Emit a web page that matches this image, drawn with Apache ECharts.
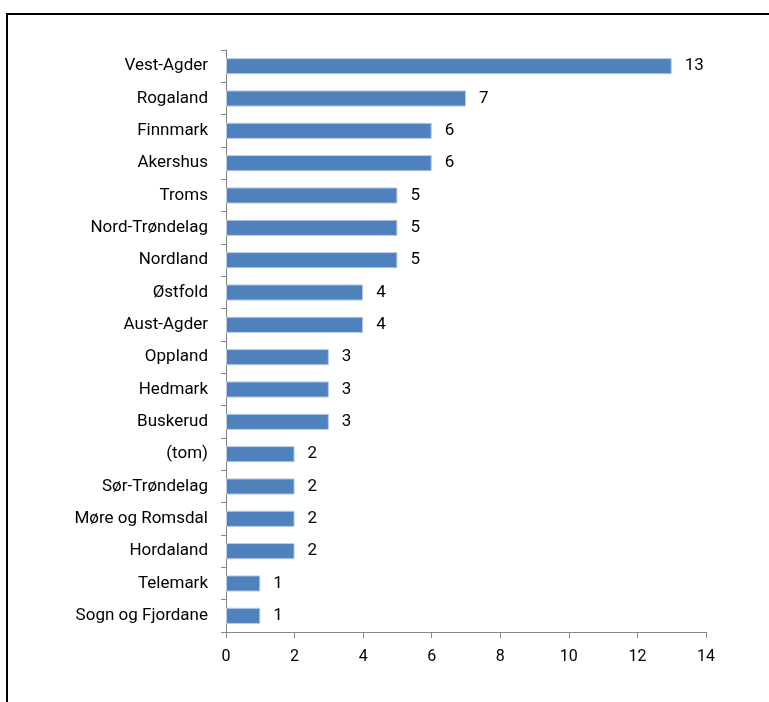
<!DOCTYPE html>
<html>
<head>
<meta charset="utf-8">
<script src="https://cdn.jsdelivr.net/npm/echarts@6/dist/echarts.min.js"></script>
<style>
    html, body { margin: 0; padding: 0; background: #fff; }
    #frame {
        position: absolute; left: 6px; top: 13px; width: 770px; height: 700px;
        border-left: 2px solid #000; border-top: 2px solid #000;
    }
    #chart { position: absolute; left: 0; top: 0; width: 769px; height: 702px; }
</style>
</head>
<body>
<div id="frame"></div>
<div id="chart"></div>
<script>
// fylker, top to bottom as in the picture
const counties = ['Vest-Agder', 'Rogaland', 'Finnmark', 'Akershus', 'Troms', 'Nord-Trøndelag',
    'Nordland', 'Østfold', 'Aust-Agder', 'Oppland', 'Hedmark', 'Buskerud', '(tom)',
    'Sør-Trøndelag', 'Møre og Romsdal', 'Hordaland', 'Telemark', 'Sogn og Fjordane'];
const counts = [13, 7, 6, 6, 5, 5, 5, 4, 4, 3, 3, 3, 2, 2, 2, 2, 1, 1];

const font = "Roboto, 'Open Sans', sans-serif";
const chart = echarts.init(document.getElementById('chart'));

chart.setOption({
    animation: false,
    grid: { left: 226, right: 63, top: 50, bottom: 70 },
    xAxis: {
        type: 'value',
        min: 0,
        max: 14,
        interval: 2,
        axisLine: { show: true, lineStyle: { color: '#868686', width: 1 } },
        axisTick: { show: true, length: 6, lineStyle: { color: '#868686' } },
        splitLine: { show: false },
        axisLabel: { color: '#000', fontSize: 16, fontFamily: font, margin: 17 }
    },
    yAxis: {
        type: 'category',
        data: counties,
        inverse: true,
        axisLine: { show: true, lineStyle: { color: '#868686', width: 1 } },
        axisTick: { show: true, length: 5, lineStyle: { color: '#868686' } },
        axisLabel: { color: '#000', fontSize: 17, fontFamily: font, margin: 18 }
    },
    series: [{
        type: 'bar',
        data: counts,
        barWidth: '50%',
        itemStyle: { color: '#4F81BD', borderColor: '#BCCDE3', borderWidth: 1 },
        label: {
            show: true,
            position: 'right',
            distance: 13,
            color: '#000',
            fontSize: 17,
            fontFamily: font
        }
    }]
});
</script>
</body>
</html>
